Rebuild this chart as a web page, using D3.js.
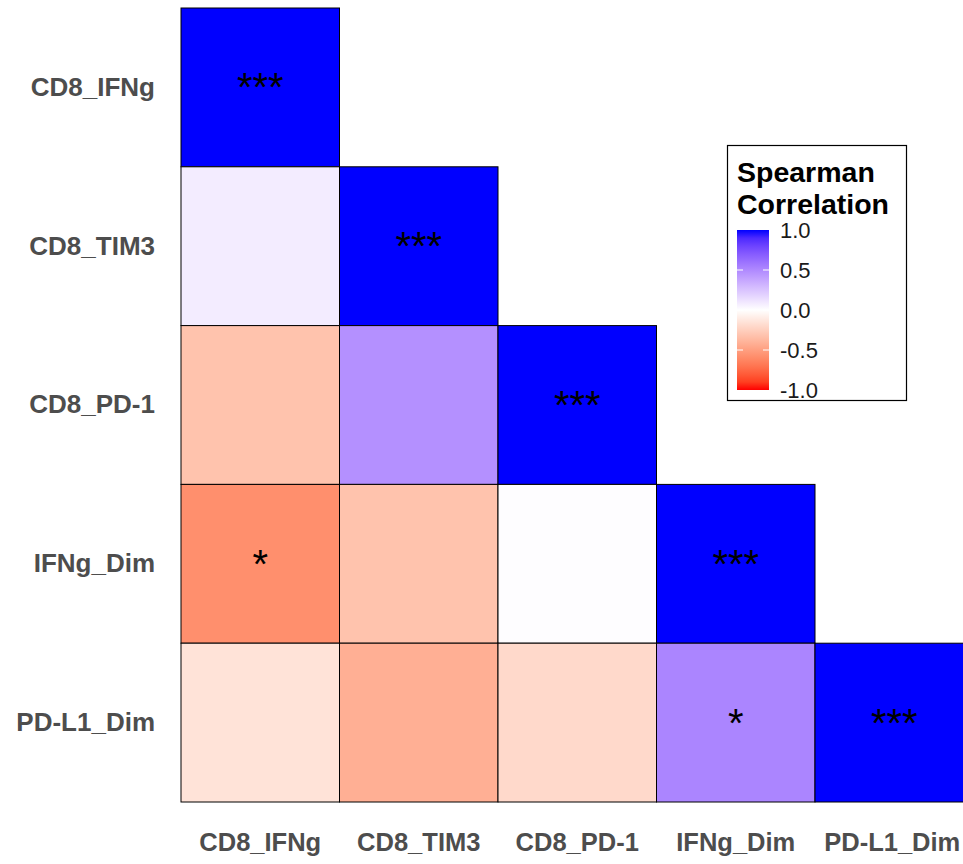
<!DOCTYPE html>
<html>
<head>
<meta charset="utf-8">
<script src="https://cdn.jsdelivr.net/npm/d3@7"></script>
<style>
  body { margin: 0; background: #fff; }
  svg { display: block; font-family: "Liberation Sans", Arial, sans-serif; }
</style>
</head>
<body>
<svg width="963" height="864"></svg>
<script>
const vars = ['CD8_IFNg', 'CD8_TIM3', 'CD8_PD-1', 'IFNg_Dim', 'PD-L1_Dim']

// lower triangle, row = y variable, col = x variable
const rowVar = ['CD8_IFNg', 'CD8_TIM3', 'CD8_TIM3', 'CD8_PD-1', 'CD8_PD-1', 'CD8_PD-1',
  'IFNg_Dim', 'IFNg_Dim', 'IFNg_Dim', 'IFNg_Dim',
  'PD-L1_Dim', 'PD-L1_Dim', 'PD-L1_Dim', 'PD-L1_Dim', 'PD-L1_Dim']
const colVar = ['CD8_IFNg', 'CD8_IFNg', 'CD8_TIM3', 'CD8_IFNg', 'CD8_TIM3', 'CD8_PD-1',
  'CD8_IFNg', 'CD8_TIM3', 'CD8_PD-1', 'IFNg_Dim',
  'CD8_IFNg', 'CD8_TIM3', 'CD8_PD-1', 'IFNg_Dim', 'PD-L1_Dim']
const rho = [1, 0.08, 1, -0.32, 0.47, 1,
  -0.58, -0.32, 0.01, 1,
  -0.15, -0.42, -0.2, 0.52, 1]
const stars = ['***', '', '***', '', '', '***',
  '*', '', '', '***',
  '', '', '', '*', '***']

const legendTicks = [1, 0.5, 0, -0.5, -1]

const svg = d3.select('svg')
const plotLeft = 181, plotTop = 8, cellW = 158.5, cellH = 158.8

const x = d3.scaleBand().domain(vars).range([plotLeft, plotLeft + cellW * vars.length])
const y = d3.scaleBand().domain(vars).range([plotTop, plotTop + cellH * vars.length])

function fillColor(v) {
  if (v >= 0) return d3.interpolateLab('#ffffff', '#0000ff')(v)
  return d3.interpolateLab('#ffffff', '#ff0000')(-v)
}

const cells = rho.map((v, i) => ({ r: rowVar[i], c: colVar[i], v, s: stars[i] }))

svg.append('g').selectAll('rect')
  .data(cells)
  .join('rect')
  .attr('x', d => x(d.c))
  .attr('y', d => y(d.r))
  .attr('width', x.bandwidth())
  .attr('height', y.bandwidth())
  .attr('fill', d => fillColor(d.v))
  .attr('stroke', '#000')
  .attr('stroke-width', 1)

svg.append('g').selectAll('text')
  .data(cells.filter(d => d.s))
  .join('text')
  .attr('x', d => x(d.c) + x.bandwidth() / 2)
  .attr('y', d => y(d.r) + y.bandwidth() / 2 + 14)
  .attr('text-anchor', 'middle')
  .attr('font-size', 40)
  .attr('fill', '#000')
  .text(d => d.s)

// axes
const yAxis = svg.append('g')
  .attr('transform', `translate(${plotLeft},0)`)
  .call(d3.axisLeft(y).tickSize(0).tickPadding(26))
yAxis.select('.domain').remove()
yAxis.selectAll('text')
  .attr('font-size', 26).attr('font-weight', 'bold').attr('fill', '#4d4d4d')
  .attr('font-family', '"Liberation Sans", Arial, sans-serif')

const xAxis = svg.append('g')
  .attr('transform', `translate(0,${plotTop + cellH * vars.length})`)
  .call(d3.axisBottom(x).tickSize(0).tickPadding(31))
xAxis.select('.domain').remove()
xAxis.selectAll('text')
  .attr('font-size', 25.5).attr('font-weight', 'bold').attr('fill', '#4d4d4d')
  .attr('font-family', '"Liberation Sans", Arial, sans-serif')
  .attr('dx', (d, i) => i === vars.length - 1 ? -2 : 0)

// legend
const legend = svg.append('g')
legend.append('rect')
  .attr('x', 727.5).attr('y', 145.5).attr('width', 179).attr('height', 255)
  .attr('fill', '#fff').attr('stroke', '#000').attr('stroke-width', 1.2)
legend.append('text')
  .attr('x', 737).attr('y', 182)
  .attr('font-size', 28.5).attr('font-weight', 'bold')
  .text('Spearman')
legend.append('text')
  .attr('x', 737).attr('y', 214)
  .attr('font-size', 28.5).attr('font-weight', 'bold')
  .text('Correlation')

const defs = svg.append('defs')
const grad = defs.append('linearGradient')
  .attr('id', 'corrGrad').attr('x1', 0).attr('x2', 0).attr('y1', 0).attr('y2', 1)
d3.range(0, 1.0001, 0.05).forEach(t => {
  grad.append('stop').attr('offset', t).attr('stop-color', fillColor(1 - 2 * t))
})

const barX = 737, barW = 32
const ly = d3.scaleLinear().domain([1, -1]).range([230, 390])
legend.append('rect')
  .attr('x', barX).attr('y', ly(1)).attr('width', barW).attr('height', ly(-1) - ly(1))
  .attr('fill', 'url(#corrGrad)')

legend.selectAll('.tk')
  .data(legendTicks.filter(t => Math.abs(t) < 1))
  .join(enter => {
    const g = enter.append('g')
    g.append('line').attr('x1', barX).attr('x2', barX + 6)
      .attr('y1', d => ly(d)).attr('y2', d => ly(d))
      .attr('stroke', '#fff').attr('stroke-width', 1)
    g.append('line').attr('x1', barX + barW - 6).attr('x2', barX + barW)
      .attr('y1', d => ly(d)).attr('y2', d => ly(d))
      .attr('stroke', '#fff').attr('stroke-width', 1)
    return g
  })

legend.selectAll('.lbl')
  .data(legendTicks)
  .join('text')
  .attr('x', 780)
  .attr('y', d => ly(d) + 8)
  .attr('font-size', 22)
  .attr('fill', '#1a1a1a')
  .text(d => d3.format('.1f')(d).replace('−', '-'))
</script>
</body>
</html>
